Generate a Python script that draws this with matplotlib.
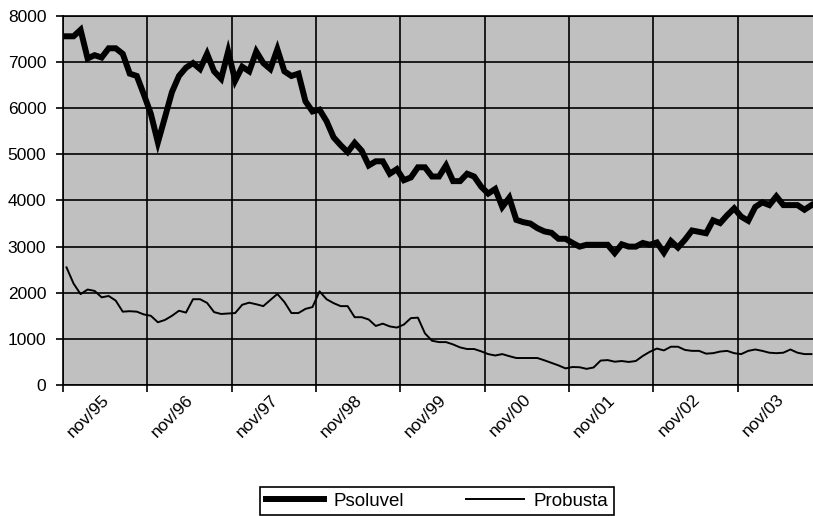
import numpy as np
import pandas as pd
import matplotlib as mpl
mpl.use('Agg')
import matplotlib.pyplot as plt
mpl.rcParams['font.family'] = ['Liberation Sans', 'DejaVu Sans']

## Monthly series, first category nov/95
months = pd.date_range('1995-11-01', periods=107, freq='MS')

psoluvel = [7560, 7560, 7700, 7080, 7150, 7100, 7300, 7300, 7180, 6750,
            6700, 6300, 5880, 5260, 5800, 6350, 6700, 6880, 6980, 6850,
            7180, 6800, 6640, 7230, 6600, 6900, 6800, 7230, 6980, 6850,
            7280, 6800, 6700, 6750, 6150, 5930, 5970, 5720, 5370, 5200,
            5050, 5250, 5080, 4760, 4850, 4850, 4580, 4680, 4440, 4500,
            4720, 4720, 4520, 4520, 4760, 4420, 4420, 4580, 4520, 4300,
            4150, 4250, 3860, 4060, 3580, 3530, 3500, 3400, 3330, 3300,
            3170, 3170, 3080, 3000, 3040, 3040, 3040, 3040, 2860, 3050,
            3000, 3000, 3080, 3040, 3090, 2870, 3120, 2980, 3150, 3350,
            3320, 3290, 3570, 3510, 3680, 3830, 3650, 3560, 3860, 3960,
            3900, 4090, 3900, 3900, 3900, 3800, 3900]

probusta = [2550, 2200, 1970, 2070, 2040, 1900, 1930, 1830, 1590, 1600,
            1590, 1530, 1500, 1360, 1410, 1500, 1610, 1570, 1860, 1860,
            1780, 1580, 1540, 1550, 1560, 1740, 1785, 1750, 1710, 1843,
            1973, 1800, 1560, 1560, 1650, 1690, 2030, 1860, 1775, 1710,
            1710, 1470, 1470, 1420, 1280, 1330, 1270, 1245, 1310, 1450,
            1460, 1120, 960, 930, 930, 880, 815, 780, 780, 730,
            670, 640, 670, 625, 585, 585, 585, 585, 535, 480,
            425, 360, 390, 385, 350, 380, 530, 540, 505, 520,
            500, 520, 630, 720, 790, 750, 830, 830, 760, 740,
            740, 680, 690, 725, 740, 690, 670, 740, 770, 740,
            700, 690, 700, 770, 700, 670, 670]

yticks = np.arange(0, 8001, 1000)

n = len(months)
x = np.arange(n)
nov = [i for i, m in enumerate(months) if m.month == 11]
nov_labels = ['nov/' + m.strftime('%y') for m in months if m.month == 11]

fig = plt.figure(figsize=(8.13, 5.16), dpi=100)
px_w, px_h = 813., 516.
left, right, top, bottom = 63, 815, 16, 385
ax = fig.add_axes([left/px_w, 1 - bottom/px_h, (right-left)/px_w, (bottom-top)/px_h])
ax.set_facecolor('#c0c0c0')

ax.plot(x, psoluvel, color='black', lw=4.3, solid_joinstyle='miter', label='Psoluvel', zorder=3)
ax.plot(x, probusta, color='black', lw=1.4, label='Probusta', zorder=3)

ax.set_xlim(-0.5, n - 0.5)
ax.set_ylim(0, 8000)
ax.set_yticks(yticks)
ax.set_yticklabels([str(v) for v in yticks], fontsize=12.5)

## boundaries between 12-month groups
ax.set_xticks([i - 0.5 for i in nov])
ax.set_xticklabels([])
ax.set_xticks([i + 6.5 for i in nov], minor=True)
ax.set_xticklabels(nov_labels, minor=True, rotation=45, ha='right', va='top', fontsize=12.5)
ax.tick_params(axis='x', which='minor', length=0, pad=5)
ax.tick_params(axis='both', which='major', direction='out', length=5, width=1.2, color='black')
ax.tick_params(axis='y', pad=7)

ax.grid(True, which='major', color='black', lw=1.2)
ax.set_axisbelow(True)
for s in ['left', 'bottom', 'top']:
  ax.spines[s].set_linewidth(1.2)
ax.spines['right'].set_visible(False)

leg = fig.legend(loc='upper center', bbox_to_anchor=(437/px_w, 1 - 487/px_h), ncol=2,
                 fontsize=13.5, frameon=True, fancybox=False, edgecolor='black',
                 framealpha=1, handlelength=3.1, handletextpad=0.5, columnspacing=3.3,
                 borderpad=0.3, borderaxespad=0)
leg.get_frame().set_linewidth(1.2)

fig.savefig('out.png', dpi=100)
